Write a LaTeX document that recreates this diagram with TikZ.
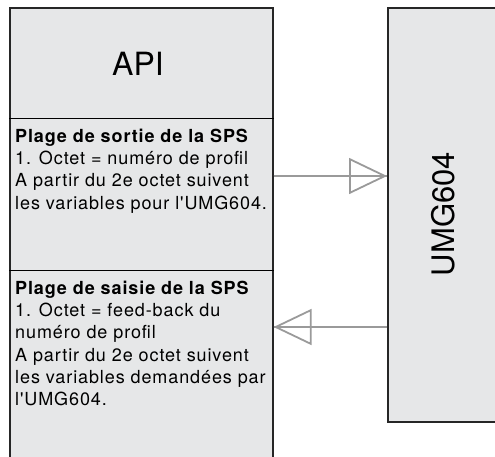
\documentclass[tikz,border=0pt]{standalone}
\usepackage{fontspec}
\setmainfont{TeX Gyre Heros}
\newfontfamily\infofont{TeX Gyre Heros}[LetterSpace=5]
\usetikzlibrary{arrows.meta}

\definecolor{boxgray}{HTML}{E6E7E8}
\definecolor{arrowgray}{HTML}{9A9A9A}

\tikzset{
  box/.style={fill=boxgray, draw=black!85, line width=1.6pt, anchor=north west, inner sep=0pt},
  flow/.style={draw=arrowgray, line width=1.8pt, -{Triangle[open,length=38pt,width=36pt]}, postaction={draw=arrowgray, -}},
  info/.style={anchor=north west, inner sep=0pt, align=left, font=\infofont\fontsize{18}{22.3}\selectfont}
}

\begin{document}
\begin{tikzpicture}[x=1pt, y=-1pt]

\useasboundingbox (0,0) rectangle (495,456);
\clip (0,0) rectangle (495,456);

% API box (open at the bottom)
\node[box, minimum width=263pt, minimum height=480pt] (api) at (9,7) {};
\draw[line width=0.8pt] (api.west |- 0,118) -- (api.east |- 0,118);
\draw[line width=0.8pt] (api.west |- 0,270) -- (api.east |- 0,270);
\node[font=\fontsize{32}{32}\selectfont] (apilabel) at (138,63.5) {API};

% Output range
\node[info] (sortie) at (15,128.5) {\textbf{Plage de sortie de la SPS}\\
1. Octet = numéro de profil\\
A partir du 2e octet suivent\\
les variables pour l'UMG604.};

% Input range
\node[info] (saisie) at (15,280.5) {\textbf{Plage de saisie de la SPS}\\
1. Octet = feed-back du\\
numéro de profil\\
A partir du 2e octet suivent\\
les variables demandées par\\
l'UMG604.};

% UMG604 box
\node[box, minimum width=140pt, minimum height=414pt] (umg) at (387,7) {};
\node[rotate=90, font=\fontsize{31}{31}\selectfont] (umglabel) at (443,214) {UMG604};

% Data flow
\coordinate (out) at (api.east |- 0,176);
\coordinate (in) at (umg.west |- 0,327);
\draw[flow] (out) -- (out -| umg.west);
\draw[flow] (in) -- (in -| api.east);

\end{tikzpicture}
\end{document}
